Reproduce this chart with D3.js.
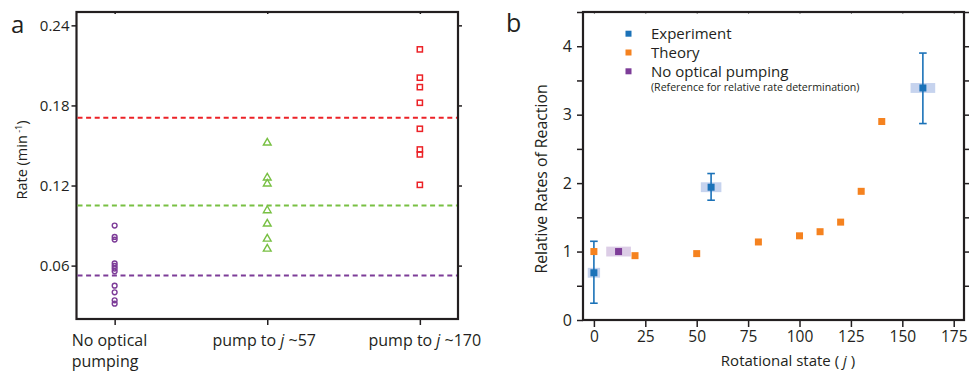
<!DOCTYPE html>
<html>
<head>
<meta charset="utf-8">
<script src="https://cdn.jsdelivr.net/npm/d3@7.9.0/dist/d3.min.js"></script>
<style>
  body { margin: 0; background: #fff; }
  svg text { font-family: "Open Sans", sans-serif; fill: #231f20; }
</style>
</head>
<body>
<svg id="chart" width="971" height="371"></svg>
<script>
// ---- panel a data ----
const groups = ['none', 'j57', 'j170'];
const rateNoPump = [0.090, 0.0815, 0.0795, 0.0617, 0.0598, 0.0578, 0.0557, 0.045, 0.040, 0.034, 0.0315];
const rate57 = [0.152, 0.1258, 0.1213, 0.1013, 0.0913, 0.080, 0.0725];
const rate170 = [0.222, 0.2008, 0.1937, 0.182, 0.1625, 0.147, 0.1433, 0.1205];
const meanRates = [0.0525, 0.105, 0.1708];
const rateTicks = [0.06, 0.12, 0.18, 0.24];

// ---- panel b data ----
const expJ = [0, 57, 160];
const expRel = [0.69, 1.94, 3.39];
const expLow = [0.245, 1.75, 2.87];
const expHigh = [1.15, 2.14, 3.90];
const expJErr = [3, 5, 6];
const theoryJ = [0, 20, 50, 80, 100, 110, 120, 130, 140];
const theoryRel = [1.0, 0.94, 0.97, 1.14, 1.23, 1.29, 1.43, 1.88, 2.90];
const refJ = [12];
const refRel = [1.0];
const refJErr = [6];
const relTicks = [0, 0.5, 1, 1.5, 2, 2.5, 3, 3.5, 4, 4.5];
const jTicks = [0, 25, 50, 75, 100, 125, 150, 175];

const purple = '#7d3c98', green = '#78c043', red = '#ec2227';
const blue = '#1b72b8', orange = '#f5821f';

const svg = d3.select('#chart');

// ===== panel a =====
const A = { l: 76.5, r: 458, t: 12, b: 319 };
const xA = d3.scalePoint().domain(groups).range([A.l, A.r]).padding(0.25);
const yA = d3.scaleLinear().domain([0.02, 0.25]).range([A.b, A.t]);

function styleAxis(g) {
  g.select('.domain').remove();
  g.selectAll('.tick line').attr('stroke', '#231f20').attr('stroke-width', 1.5);
  g.selectAll('.tick text').style('font-size', '15px');
}

svg.append('g').attr('transform', `translate(${A.l},0)`)
  .call(d3.axisLeft(yA).tickValues(rateTicks).tickFormat(d3.format('.2f')).tickSize(5).tickPadding(2))
  .call(styleAxis);
svg.append('g').attr('transform', `translate(${A.r},0)`)
  .call(d3.axisRight(yA).tickValues(rateTicks).tickFormat('').tickSize(4))
  .call(styleAxis);
svg.append('g').attr('transform', `translate(0,${A.b})`)
  .call(d3.axisBottom(xA).tickFormat('').tickSize(6))
  .call(styleAxis);
svg.append('g').attr('transform', `translate(0,${A.t})`)
  .call(d3.axisBottom(xA).tickFormat('').tickSize(2))
  .call(styleAxis);

svg.append('rect').attr('x', A.l).attr('y', A.t).attr('width', A.r - A.l).attr('height', A.b - A.t)
  .attr('fill', 'none').attr('stroke', '#231f20').attr('stroke-width', 2.2);

// dashed mean lines
const meanColors = [purple, green, red];
meanRates.forEach((m, i) => {
  svg.append('line').attr('x1', A.l + 1).attr('x2', A.r - 1)
    .attr('y1', yA(m)).attr('y2', yA(m))
    .attr('stroke', meanColors[i]).attr('stroke-width', 2).attr('stroke-dasharray', '5,3.6');
});

// points
svg.append('g').selectAll('circle').data(rateNoPump).join('circle')
  .attr('cx', xA('none')).attr('cy', d => yA(d)).attr('r', 2.4)
  .attr('fill', 'none').attr('stroke', purple).attr('stroke-width', 1.4);
const tri = d3.symbol().type(d3.symbolTriangle).size(26);
svg.append('g').selectAll('path').data(rate57).join('path')
  .attr('d', tri).attr('transform', d => `translate(${xA('j57')},${yA(d)})`)
  .attr('fill', 'none').attr('stroke', green).attr('stroke-width', 1.4);
svg.append('g').selectAll('rect').data(rate170).join('rect')
  .attr('x', xA('j170') - 2.6).attr('y', d => yA(d) - 2.6).attr('width', 5.2).attr('height', 5.2)
  .attr('fill', 'none').attr('stroke', red).attr('stroke-width', 1.5);

// category labels
const catG = svg.append('g').style('font-size', '16px');
catG.append('text').attr('x', xA('none') - 43).attr('y', 346).text('No optical');
catG.append('text').attr('x', xA('none') - 43).attr('y', 367).text('pumping');
[['j57', '~57', -3], ['j170', '~170', 5]].forEach(([k, s, dx]) => {
  const t = catG.append('text').attr('x', xA(k) + dx).attr('y', 346).attr('text-anchor', 'middle');
  t.append('tspan').text('pump to ');
  t.append('tspan').style('font-style', 'italic').text('j');
  t.append('tspan').text(' ' + s);
});

// y label
const ylA = svg.append('text').attr('transform', 'translate(27,160) rotate(-90)')
  .attr('text-anchor', 'middle').style('font-size', '14.5px');
ylA.append('tspan').text('Rate (min');
ylA.append('tspan').attr('dy', -5).style('font-size', '9px').text(' -1');
ylA.append('tspan').attr('dy', 5).text(')');

svg.append('text').attr('x', 11).attr('y', 33).style('font-size', '24px').text('a');

// ===== panel b =====
const B = { l: 583, r: 964, t: 12, b: 320 };
const xB = d3.scaleLinear().domain([-5.3, 180]).range([B.l, B.r]);
const yB = d3.scaleLinear().domain([0, 4.5]).range([B.b, B.t]);

svg.append('g').attr('transform', `translate(${B.l},0)`)
  .call(d3.axisLeft(yB).tickValues(relTicks).tickFormat(d => Number.isInteger(d) ? d : '').tickSize(6).tickPadding(5))
  .call(styleAxis)
  .call(g => g.selectAll('.tick text').style('font-size', '16px'));
svg.append('g').attr('transform', `translate(${B.r},0)`)
  .call(d3.axisRight(yB).tickValues(relTicks.filter(d => d > 0)).tickFormat('').tickSize(5))
  .call(styleAxis);
svg.append('g').attr('transform', `translate(0,${B.b})`)
  .call(d3.axisBottom(xB).tickValues(jTicks).tickSize(7).tickPadding(4))
  .call(styleAxis)
  .call(g => g.selectAll('.tick text').style('font-size', '15.5px'));
svg.append('g').attr('transform', `translate(0,${B.t})`)
  .call(d3.axisBottom(xB).tickValues(jTicks).tickFormat('').tickSize(2))
  .call(styleAxis)
  .call(g => g.selectAll('.tick line').attr('stroke-width', 1).attr('stroke', '#888'));

svg.append('rect').attr('x', B.l).attr('y', B.t).attr('width', B.r - B.l).attr('height', B.b - B.t)
  .attr('fill', 'none').attr('stroke', '#231f20').attr('stroke-width', 2.2);

// shaded uncertainty rectangles
const bandH = 0.072;
svg.append('g').selectAll('rect').data(expJ).join('rect')
  .attr('x', (d, i) => xB(d - expJErr[i])).attr('width', (d, i) => xB(d + expJErr[i]) - xB(d - expJErr[i]))
  .attr('y', (d, i) => yB(expRel[i] + bandH)).attr('height', yB(0) - yB(2 * bandH))
  .attr('fill', '#c6d3ee');
svg.append('g').selectAll('rect').data(refJ).join('rect')
  .attr('x', (d, i) => xB(d - refJErr[i])).attr('width', (d, i) => xB(d + refJErr[i]) - xB(d - refJErr[i]))
  .attr('y', (d, i) => yB(refRel[i] + bandH)).attr('height', yB(0) - yB(2 * bandH))
  .attr('fill', '#dccde6');

// error bars
const eb = svg.append('g').attr('stroke', blue).attr('stroke-width', 1.6);
expJ.forEach((j, i) => {
  eb.append('line').attr('x1', xB(j)).attr('x2', xB(j)).attr('y1', yB(expLow[i])).attr('y2', yB(expHigh[i]));
  [expLow[i], expHigh[i]].forEach(v => {
    eb.append('line').attr('x1', xB(j) - 3.8).attr('x2', xB(j) + 3.8).attr('y1', yB(v)).attr('y2', yB(v));
  });
});

const sq = 7;
svg.append('g').selectAll('rect').data(theoryJ).join('rect')
  .attr('x', d => xB(d) - sq / 2).attr('y', (d, i) => yB(theoryRel[i]) - sq / 2)
  .attr('width', sq).attr('height', sq).attr('fill', orange);
svg.append('g').selectAll('rect').data(refJ).join('rect')
  .attr('x', d => xB(d) - sq / 2).attr('y', (d, i) => yB(refRel[i]) - sq / 2)
  .attr('width', sq).attr('height', sq).attr('fill', purple);
svg.append('g').selectAll('rect').data(expJ).join('rect')
  .attr('x', d => xB(d) - sq / 2).attr('y', (d, i) => yB(expRel[i]) - sq / 2)
  .attr('width', sq).attr('height', sq).attr('fill', blue);

// legend
const legendItems = [['Experiment', blue], ['Theory', orange], ['No optical pumping', purple]];
const lg = svg.append('g');
legendItems.forEach(([name, c], i) => {
  const y = 33.7 + i * 18.8;
  lg.append('rect').attr('x', 625.5).attr('y', y - 3).attr('width', 6).attr('height', 6).attr('fill', c);
  lg.append('text').attr('x', 651).attr('y', y + 5.5).style('font-size', '15px').text(name);
});
lg.append('text').attr('x', 651).attr('y', 91).style('font-size', '10.6px')
  .text('(Reference for relative rate determination)');

// axis labels
svg.append('text').attr('transform', 'translate(547,179) rotate(-90)')
  .attr('text-anchor', 'middle').style('font-size', '15.8px').text('Relative Rates of Reaction');
const xlB = svg.append('text').attr('x', 788).attr('y', 366).attr('text-anchor', 'middle').style('font-size', '15px');
xlB.append('tspan').text('Rotational state ( ');
xlB.append('tspan').style('font-style', 'italic').text('j');
xlB.append('tspan').text(' )');

svg.append('text').attr('x', 506).attr('y', 32).style('font-size', '25px').text('b');
</script>
</body>
</html>
